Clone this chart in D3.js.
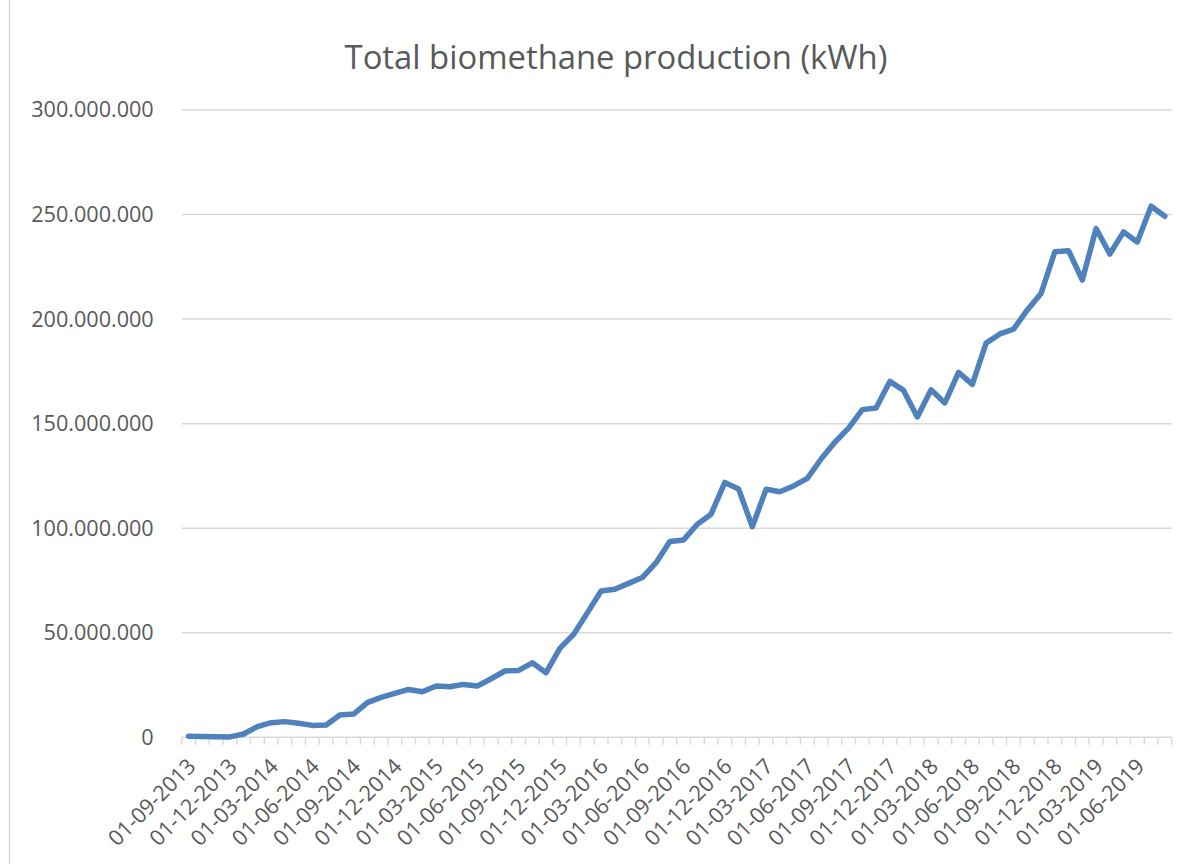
<!DOCTYPE html>
<html>
<head>
<meta charset="utf-8">
<script src="https://cdn.jsdelivr.net/npm/d3@7"></script>
<style>
  html, body { margin: 0; padding: 0; background: #fff; }
  svg { display: block; font-family: "Open Sans", sans-serif; }
</style>
</head>
<body>
<div id="chart"></div>
<script>
// monthly categories, Sep 2013 .. Aug 2019
const months = [
  "01-09-2013","01-10-2013","01-11-2013","01-12-2013",
  "01-01-2014","01-02-2014","01-03-2014","01-04-2014","01-05-2014","01-06-2014",
  "01-07-2014","01-08-2014","01-09-2014","01-10-2014","01-11-2014","01-12-2014",
  "01-01-2015","01-02-2015","01-03-2015","01-04-2015","01-05-2015","01-06-2015",
  "01-07-2015","01-08-2015","01-09-2015","01-10-2015","01-11-2015","01-12-2015",
  "01-01-2016","01-02-2016","01-03-2016","01-04-2016","01-05-2016","01-06-2016",
  "01-07-2016","01-08-2016","01-09-2016","01-10-2016","01-11-2016","01-12-2016",
  "01-01-2017","01-02-2017","01-03-2017","01-04-2017","01-05-2017","01-06-2017",
  "01-07-2017","01-08-2017","01-09-2017","01-10-2017","01-11-2017","01-12-2017",
  "01-01-2018","01-02-2018","01-03-2018","01-04-2018","01-05-2018","01-06-2018",
  "01-07-2018","01-08-2018","01-09-2018","01-10-2018","01-11-2018","01-12-2018",
  "01-01-2019","01-02-2019","01-03-2019","01-04-2019","01-05-2019","01-06-2019",
  "01-07-2019","01-08-2019"
];

// production in millions of kWh
const productionM = [
  0.5, 0.4, 0.3, 0.2, 1.6, 5.1, 7.0, 7.5, 6.7, 5.7,
  5.9, 10.7, 11.1, 16.6, 19.1, 21.0, 22.9, 21.8, 24.5, 24.2,
  25.3, 24.5, 28.0, 31.7, 32.0, 35.6, 30.9, 42.5, 49.2, 59.5,
  70.0, 70.8, 73.6, 76.4, 83.5, 93.6, 94.4, 101.9, 106.7, 121.9,
  118.8, 100.7, 118.6, 117.4, 120.2, 123.8, 133.1, 141.1, 147.9, 156.7,
  157.5, 170.2, 165.9, 153.2, 166.2, 159.9, 174.5, 168.8, 188.5, 192.9,
  195.2, 204.4, 212.3, 232.2, 232.7, 218.7, 243.3, 231.1, 241.7, 236.9,
  254.0, 249.2
];

const yTicks = [0, 50e6, 100e6, 150e6, 200e6, 250e6, 300e6];
const title = "Total biomethane production (kWh)";

const width = 1200, height = 864;
const plot = { left: 181.7, right: 1171.7, top: 110, bottom: 737.3 };

const data = months.map((m, i) => ({ month: m, value: productionM[i] * 1e6 }));

const svg = d3.select("#chart").append("svg")
  .attr("width", width)
  .attr("height", height);

// chart area border (only left edge is visible in the crop)
svg.append("line")
  .attr("x1", 9.5).attr("x2", 9.5)
  .attr("y1", 0).attr("y2", height)
  .attr("stroke", "#d9d9d9")
  .attr("stroke-width", 1.5);

const x = d3.scaleBand().domain(months).range([plot.left, plot.right]);
const y = d3.scaleLinear().domain([0, 300e6]).range([plot.bottom, plot.top]);

const locale = d3.formatLocale({ decimal: ",", thousands: ".", grouping: [3], currency: ["", ""] });
const fmt = locale.format(",");

// --- Grid lines ---
svg.append("g")
  .selectAll("line")
  .data(yTicks.filter(d => d > 0))
  .join("line")
  .attr("x1", plot.left).attr("x2", plot.right)
  .attr("y1", d => y(d)).attr("y2", d => y(d))
  .attr("stroke", "#d9d9d9")
  .attr("stroke-width", 1.5);

// --- Y axis labels ---
svg.append("g")
  .attr("transform", `translate(${plot.left - 28},0)`)
  .call(d3.axisLeft(y).tickValues(yTicks).tickFormat(d => fmt(d)).tickSize(0).tickPadding(0))
  .call(g => g.select(".domain").remove())
  .call(g => g.selectAll(".tick text")
    .attr("fill", "#595959")
    .attr("font-size", "21.6px")
    .attr("font-family", "Open Sans, sans-serif"));

// --- X axis with month ticks ---
const xAxis = svg.append("g")
  .attr("transform", `translate(0,${plot.bottom})`);

xAxis.append("line")
  .attr("x1", plot.left).attr("x2", plot.right)
  .attr("stroke", "#d9d9d9")
  .attr("stroke-width", 1.5);

const boundaries = months.map(m => x(m)).concat([plot.right]);
xAxis.selectAll(".mtick")
  .data(boundaries)
  .join("line")
  .attr("class", "mtick")
  .attr("x1", d => d).attr("x2", d => d)
  .attr("y1", 0).attr("y2", 7.5)
  .attr("stroke", "#d9d9d9")
  .attr("stroke-width", 1.5);

xAxis.selectAll(".mlabel")
  .data(months.filter((m, i) => i % 3 === 0))
  .join("text")
  .attr("class", "mlabel")
  .attr("transform", d => `translate(${x(d) + x.bandwidth() / 2 + 3},${25}) rotate(-45)`)
  .attr("text-anchor", "end")
  .attr("dy", "0.35em")
  .attr("fill", "#595959")
  .attr("font-size", "21.6px")
  .text(d => d);

// --- Line ---
const line = d3.line()
  .x(d => x(d.month) + x.bandwidth() / 2)
  .y(d => y(d.value));

svg.append("path")
  .datum(data)
  .attr("fill", "none")
  .attr("stroke", "#4f81bd")
  .attr("stroke-width", 5.5)
  .attr("stroke-linejoin", "round")
  .attr("stroke-linecap", "round")
  .attr("d", line);

// --- Title ---
svg.append("text")
  .attr("x", 616)
  .attr("y", 69)
  .attr("text-anchor", "middle")
  .attr("fill", "#595959")
  .attr("font-size", "32.8px")
  .text(title);
</script>
</body>
</html>
